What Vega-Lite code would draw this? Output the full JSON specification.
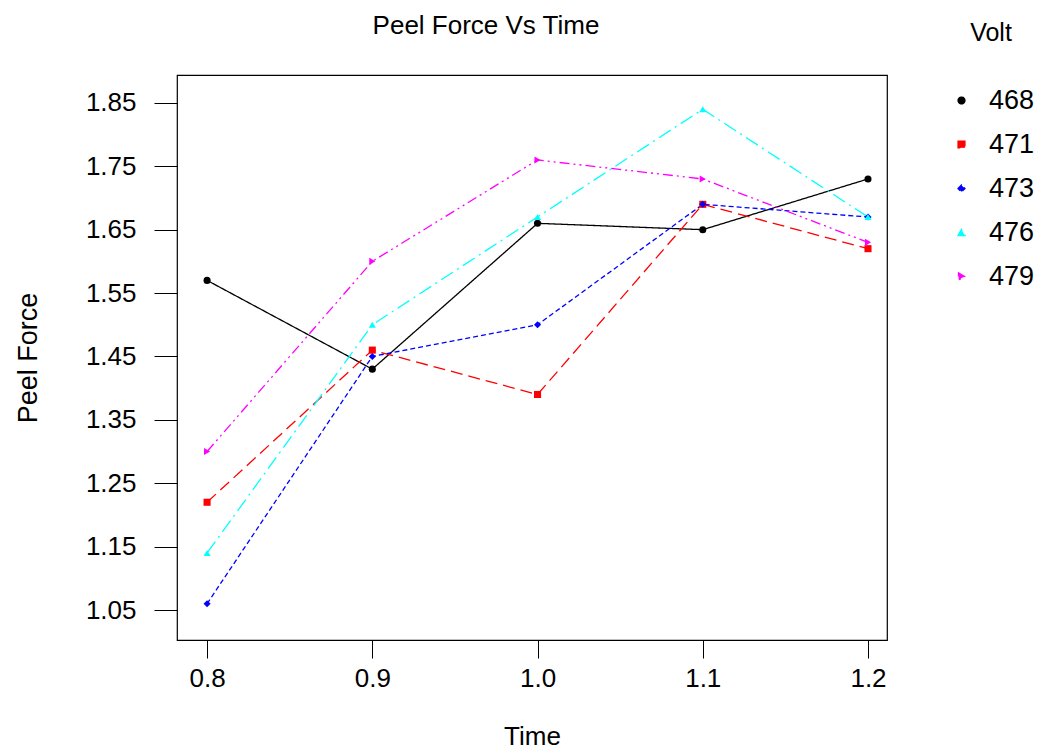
{
  "$schema": "https://vega.github.io/schema/vega-lite/v6.json",
  "width": 710,
  "height": 565,
  "autosize": {"type": "none"},
  "padding": {"left": 177, "top": 75, "right": 160, "bottom": 114},
  "background": "white",
  "config": {
    "font": "Liberation Sans",
    "view": {"stroke": "black", "strokeWidth": 1.2},
    "axis": {"grid": false, "domain": false, "tickColor": "black", "labelColor": "black", "titleColor": "black", "titleFontWeight": "normal", "labelFont": "Liberation Sans", "titleFont": "Liberation Sans"},
    "legend": {"labelFont": "Liberation Sans", "titleFont": "Liberation Sans"}
  },
  "title": {"text": "Peel Force Vs Time", "fontSize": 26, "fontWeight": "normal", "font": "Liberation Sans", "color": "black", "anchor": "middle", "frame": "group", "dx": -46, "offset": -18},
  "data": {
    "values": [
      {"Time": 0.8, "Force": 1.57, "Volt": "468"},
      {"Time": 0.9, "Force": 1.43, "Volt": "468"},
      {"Time": 1.0, "Force": 1.66, "Volt": "468"},
      {"Time": 1.1, "Force": 1.65, "Volt": "468"},
      {"Time": 1.2, "Force": 1.73, "Volt": "468"},
      {"Time": 0.8, "Force": 1.22, "Volt": "471"},
      {"Time": 0.9, "Force": 1.46, "Volt": "471"},
      {"Time": 1.0, "Force": 1.39, "Volt": "471"},
      {"Time": 1.1, "Force": 1.69, "Volt": "471"},
      {"Time": 1.2, "Force": 1.62, "Volt": "471"},
      {"Time": 0.8, "Force": 1.06, "Volt": "473"},
      {"Time": 0.9, "Force": 1.45, "Volt": "473"},
      {"Time": 1.0, "Force": 1.50, "Volt": "473"},
      {"Time": 1.1, "Force": 1.69, "Volt": "473"},
      {"Time": 1.2, "Force": 1.67, "Volt": "473"},
      {"Time": 0.8, "Force": 1.14, "Volt": "476"},
      {"Time": 0.9, "Force": 1.50, "Volt": "476"},
      {"Time": 1.0, "Force": 1.67, "Volt": "476"},
      {"Time": 1.1, "Force": 1.84, "Volt": "476"},
      {"Time": 1.2, "Force": 1.67, "Volt": "476"},
      {"Time": 0.8, "Force": 1.30, "Volt": "479"},
      {"Time": 0.9, "Force": 1.60, "Volt": "479"},
      {"Time": 1.0, "Force": 1.76, "Volt": "479"},
      {"Time": 1.1, "Force": 1.73, "Volt": "479"},
      {"Time": 1.2, "Force": 1.63, "Volt": "479"}
    ]
  },
  "encoding": {
    "x": {
      "field": "Time", "type": "quantitative",
      "scale": {"domain": [0.7818, 1.2115], "nice": false, "zero": false},
      "axis": {"values": [0.8, 0.9, 1.0, 1.1, 1.2], "format": ".1f", "tickSize": 18, "labelFontSize": 26, "labelPadding": 7, "title": "Time", "titleFontSize": 26, "titlePadding": 32}
    },
    "y": {
      "field": "Force", "type": "quantitative",
      "scale": {"domain": [1.0027, 1.894], "nice": false, "zero": false},
      "axis": {"values": [1.05, 1.15, 1.25, 1.35, 1.45, 1.55, 1.65, 1.75, 1.85], "format": ".2f", "tickSize": 23, "labelFontSize": 26, "labelPadding": 18, "title": "Peel Force", "titleFontSize": 27, "titlePadding": 43}
    },
    "color": {
      "field": "Volt", "type": "nominal",
      "scale": {"domain": ["468", "471", "473", "476", "479"], "range": ["#000000", "#ff0000", "#0000ff", "#00ffff", "#ff00ff"]},
      "legend": {"orient": "none", "legendX": 771, "legendY": -54, "title": "Volt", "titleFontSize": 25, "titleFontWeight": "normal", "titleColor": "black", "titlePadding": 41, "labelFontSize": 27, "labelColor": "black", "rowPadding": 16, "symbolSize": 45, "labelOffset": 14, "titleAnchor": "middle"}
    }
  },
  "layer": [
    {
      "mark": {"type": "line", "strokeWidth": 1.3},
      "encoding": {
        "strokeDash": {
          "field": "Volt", "type": "nominal",
          "scale": {"domain": ["468", "471", "473", "476", "479"], "range": [[1, 0], [12, 6], [5, 3], [14, 5, 2, 5], [10, 4, 2, 4, 2, 4]]},
          "legend": null
        }
      }
    },
    {
      "mark": {"type": "point", "filled": true, "opacity": 1, "size": 50},
      "encoding": {
        "shape": {
          "field": "Volt", "type": "nominal",
          "scale": {"domain": ["468", "471", "473", "476", "479"], "range": ["circle", "square", "diamond", "triangle-up", "triangle-right"]}
        }
      }
    }
  ]
}
